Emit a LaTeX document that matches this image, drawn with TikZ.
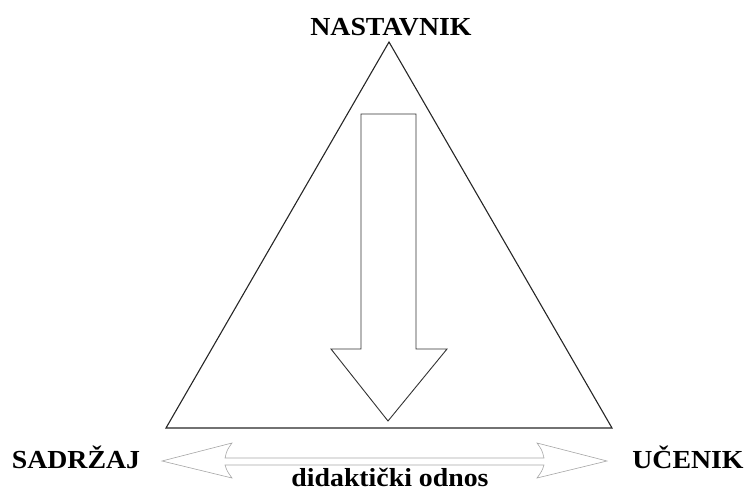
\documentclass[tikz,border=0pt]{standalone}
\usepackage{fontspec}
\setmainfont{Liberation Serif}
\begin{document}
\begin{tikzpicture}[x=1pt,y=-1pt,
    vname/.style={font=\bfseries\fontsize{26}{26}\selectfont, xscale=1.07, anchor=base, inner sep=0pt}]
  \useasboundingbox (0,0) rectangle (747,490);
  % the triangle
  \coordinate (top) at (389,42);
  \coordinate (left) at (166,428);
  \coordinate (right) at (612,428);
  \draw[line width=1.1pt, black!85] (top) -- (left) -- (right) -- cycle;
  % hollow arrow pointing down
  \draw[line width=0.9pt, black!80] (361,114) -- (416,114) -- (416,349) -- (447,349)
    -- (388,421) -- (331,349) -- (361,349) -- cycle;
  % two-headed arrow under the base
  \draw[gray!70, line width=0.6pt] (162,461) -- (232,443) .. controls (227,450) .. (225,458)
    -- (544,458) .. controls (542,450) .. (537,443) -- (607,461) -- (537,478)
    .. controls (542,471) .. (544,465) -- (225,465) .. controls (227,471) .. (232,478) -- cycle;
  % names
  \node[vname] (teacher) at (391,35) {NASTAVNIK};
  \node[vname] (content) at (76,468) {SADRŽAJ};
  \node[vname] (pupil) at (688,468) {UČENIK};
  \node[vname] (relation) at (390,486) {didaktički odnos};
\end{tikzpicture}
\end{document}
